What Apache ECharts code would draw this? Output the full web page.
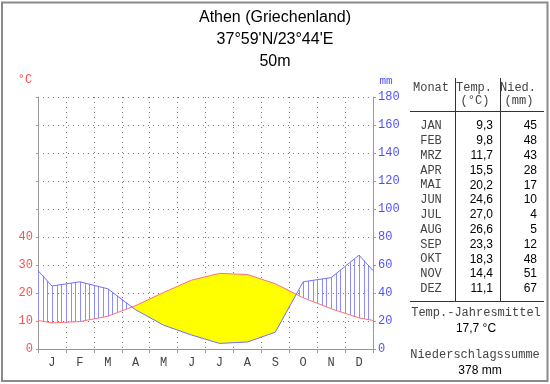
<!DOCTYPE html>
<html>
<head>
<meta charset="utf-8">
<script src="https://cdn.jsdelivr.net/npm/echarts@6/dist/echarts.min.js"></script>
<style>
html,body{margin:0;padding:0;background:#fff;}
#chart{width:550px;height:384px;}
</style>
</head>
<body>
<div id="chart"></div>
<script>
// ---- data ----
const monthLetters = ['J','F','M','A','M','J','J','A','S','O','N','D'];
const monthNames = ['JAN','FEB','MRZ','APR','MAI','JUN','JUL','AUG','SEP','OKT','NOV','DEZ'];
const tempC = [9.3, 9.8, 11.7, 15.5, 20.2, 24.6, 27.0, 26.6, 23.3, 18.3, 14.4, 11.1];
const precipMm = [45, 48, 43, 28, 17, 10, 4, 5, 12, 48, 51, 67];
const tempTickLabels = [0, 10, 20, 30, 40];
const precipTickLabels = [0, 20, 40, 60, 80, 100, 120, 140, 160, 180];
const titleLines = ['Athen (Griechenland)', "37°59'N/23°44'E", '50m'];
const annualMeanText = '17,7 °C';
const annualSumText = '378 mm';

// ---- helpers ----
// curve through month centres, closed to the axis edges with the Dec/Jan mean
function curve(vals, scale) {
  const edge = (vals[11] + vals[0]) / 2 * scale;
  const pts = [[0, edge]];
  vals.forEach((v, i) => pts.push([i + 0.5, v * scale]));
  pts.push([12, edge]);
  return pts;
}
function valAt(pts, x) {
  for (let i = 0; i < pts.length - 1; i++) {
    const a = pts[i], b = pts[i + 1];
    if (x >= a[0] - 1e-9 && x <= b[0] + 1e-9) {
      const t = (x - a[0]) / (b[0] - a[0]);
      return a[1] + t * (b[1] - a[1]);
    }
  }
  return pts[pts.length - 1][1];
}
const fmt = v => v.toFixed(1).replace('.', ',');

const tempLine = curve(tempC, 1);
const precipLine = curve(precipMm, 1);
const tempMm = curve(tempC, 2);   // Walter-Lieth: 10 °C = 20 mm

function renderFill(params, api) {
  const T = tempMm, P = precipLine;
  const children = [];
  let upper = [], lower = [];
  const flush = () => {
    if (upper.length > 1) {
      const pts = upper.concat(lower.slice().reverse()).map(p => api.coord(p));
      children.push({ type: 'polygon', shape: { points: pts }, style: { fill: '#ffff00', stroke: null } });
    }
    upper = []; lower = [];
  };
  for (let i = 0; i < T.length - 1; i++) {
    const x0 = T[i][0], x1 = T[i + 1][0];
    const d0 = T[i][1] - P[i][1], d1 = T[i + 1][1] - P[i + 1][1];
    if (d0 >= 0 && upper.length === 0) { upper.push([x0, T[i][1]]); lower.push([x0, P[i][1]]); }
    if (d0 >= 0 && d1 >= 0) {
      upper.push([x1, T[i + 1][1]]); lower.push([x1, P[i + 1][1]]);
    } else if (d0 >= 0 && d1 < 0) {
      const xc = x0 + (x1 - x0) * d0 / (d0 - d1);
      const yc = valAt(T, xc);
      upper.push([xc, yc]); lower.push([xc, yc]);
      flush();
    } else if (d0 < 0 && d1 >= 0) {
      const xc = x0 + (x1 - x0) * d0 / (d0 - d1);
      const yc = valAt(T, xc);
      upper.push([xc, yc]); lower.push([xc, yc]);
      upper.push([x1, T[i + 1][1]]); lower.push([x1, P[i + 1][1]]);
    }
  }
  flush();
  // humid hatching
  for (let k = 0; k <= 72; k++) {
    const x = k / 6;
    const t = valAt(T, x), p = valAt(P, x);
    if (p > t + 0.5) {
      const a = api.coord([x, t]), b = api.coord([x, p]);
      const px = Math.round(a[0]) + 0.5;
      children.push({ type: 'line', shape: { x1: px, y1: a[1], x2: px, y2: b[1] },
        style: { stroke: '#8c8cff', lineWidth: 1 } });
    }
  }
  return { type: 'group', children };
}

// ---- table graphics ----
const mono = '"Liberation Mono", "DejaVu Sans Mono", monospace';
const sans = '"Liberation Sans", Arial, sans-serif';
const monoFont = '12px ' + mono;
const monoCol = '#444';
const graphics = [];
graphics.push({ type: 'rect', shape: { x: 2, y: 2.5, width: 545.5, height: 378.5 },
  style: { fill: null, stroke: '#8a8a8a', lineWidth: 2 }, silent: true });
titleLines.forEach((t, i) => graphics.push({ type: 'text', x: 275, y: 18 + i * 22,
  style: { text: t, font: '16px ' + sans, fill: '#000', textAlign: 'center', textVerticalAlign: 'middle' } }));
graphics.push({ type: 'text', x: 25, y: 80, style: { text: '°C', font: '12px ' + mono, fill: '#ff5050', textAlign: 'center', textVerticalAlign: 'middle' } });
graphics.push({ type: 'text', x: 386, y: 81, style: { text: 'mm', font: '11px ' + mono, fill: '#5050ff', textAlign: 'center', textVerticalAlign: 'middle' } });

const hdr = [['Monat', '', 431], ['Temp.', '(°C)', 474], ['Nied.', '(mm)', 518]];
hdr.forEach(h => {
  graphics.push({ type: 'text', x: h[2], y: 88, style: { text: h[0], font: monoFont, fill: monoCol, textAlign: 'center', textVerticalAlign: 'middle' } });
  if (h[1]) graphics.push({ type: 'text', x: h[2] + 1, y: 101, style: { text: h[1], font: monoFont, fill: monoCol, textAlign: 'center', textVerticalAlign: 'middle' } });
});
graphics.push({ type: 'line', shape: { x1: 410, y1: 111.5, x2: 544, y2: 111.5 }, style: { stroke: '#333', lineWidth: 1 } });
graphics.push({ type: 'line', shape: { x1: 410, y1: 301.5, x2: 544, y2: 301.5 }, style: { stroke: '#333', lineWidth: 1 } });
graphics.push({ type: 'line', shape: { x1: 455.5, y1: 78, x2: 455.5, y2: 302 }, style: { stroke: '#333', lineWidth: 1 } });
graphics.push({ type: 'line', shape: { x1: 500.5, y1: 78, x2: 500.5, y2: 302 }, style: { stroke: '#333', lineWidth: 1 } });
monthNames.forEach((m, i) => {
  const y = 126 + i * 14.8;
  graphics.push({ type: 'text', x: 431, y, style: { text: m, font: monoFont, fill: monoCol, textAlign: 'center', textVerticalAlign: 'middle' } });
  graphics.push({ type: 'text', x: 493, y, style: { text: fmt(tempC[i]), font: '12px ' + sans, fill: '#000', textAlign: 'right', textVerticalAlign: 'middle' } });
  graphics.push({ type: 'text', x: 537, y, style: { text: String(precipMm[i]), font: '12px ' + sans, fill: '#000', textAlign: 'right', textVerticalAlign: 'middle' } });
});
graphics.push({ type: 'text', x: 476, y: 313, style: { text: 'Temp.-Jahresmittel', font: monoFont, fill: monoCol, textAlign: 'center', textVerticalAlign: 'middle' } });
graphics.push({ type: 'text', x: 476, y: 329, style: { text: annualMeanText, font: '12px ' + sans, fill: '#000', textAlign: 'center', textVerticalAlign: 'middle' } });
graphics.push({ type: 'text', x: 475, y: 355, style: { text: 'Niederschlagssumme', font: monoFont, fill: monoCol, textAlign: 'center', textVerticalAlign: 'middle' } });
graphics.push({ type: 'text', x: 480, y: 371, style: { text: annualSumText, font: '12px ' + sans, fill: '#000', textAlign: 'center', textVerticalAlign: 'middle' } });

const dotted = { color: '#777', type: [1, 4], width: 1 };
const chart = echarts.init(document.getElementById('chart'), null, { renderer: 'canvas' });
chart.setOption({
  animation: false,
  backgroundColor: '#fff',
  grid: { left: 38, right: 177, top: 97, bottom: 35, containLabel: false },
  xAxis: [
    { type: 'category', data: monthLetters, boundaryGap: true, position: 'bottom',
      axisLine: { show: true, lineStyle: { color: '#999' } },
      axisTick: { show: true, length: 4, lineStyle: { color: '#999' } },
      axisLabel: { color: '#444', fontFamily: mono, fontSize: 12, margin: 8 },
      splitLine: { show: true, lineStyle: dotted } },
    { type: 'value', min: 0, max: 12, show: false }
  ],
  yAxis: [
    { type: 'value', min: 0, max: 90, interval: 10, position: 'left',
      axisLine: { show: true, lineStyle: { color: '#999' } },
      axisTick: { show: true, length: 2, lineStyle: { color: '#999' } },
      axisLabel: { color: '#ff5050', fontFamily: mono, fontSize: 12, margin: 5,
        formatter: v => tempTickLabels.indexOf(v) >= 0 ? String(v) : '' },
      splitLine: { show: false } },
    { type: 'value', min: 0, max: 180, interval: 20, position: 'right',
      axisLine: { show: true, lineStyle: { color: '#999' } },
      axisTick: { show: true, length: 3, lineStyle: { color: '#999' } },
      axisLabel: { color: '#5050ff', fontFamily: mono, fontSize: 12, margin: 5,
        formatter: v => precipTickLabels.indexOf(v) >= 0 ? String(v) : '' },
      splitLine: { show: true, lineStyle: dotted } }
  ],
  graphic: graphics,
  series: [
    { type: 'custom', xAxisIndex: 1, yAxisIndex: 1, data: [[0, 0]], renderItem: renderFill, silent: true, z: 1 },
    { type: 'line', xAxisIndex: 1, yAxisIndex: 0, data: tempLine, symbol: 'none', silent: true, z: 3,
      lineStyle: { color: '#ff7070', width: 1 } },
    { type: 'line', xAxisIndex: 1, yAxisIndex: 1, data: precipLine, symbol: 'none', silent: true, z: 3,
      lineStyle: { color: '#7070ff', width: 1 } }
  ]
});
</script>
</body>
</html>
